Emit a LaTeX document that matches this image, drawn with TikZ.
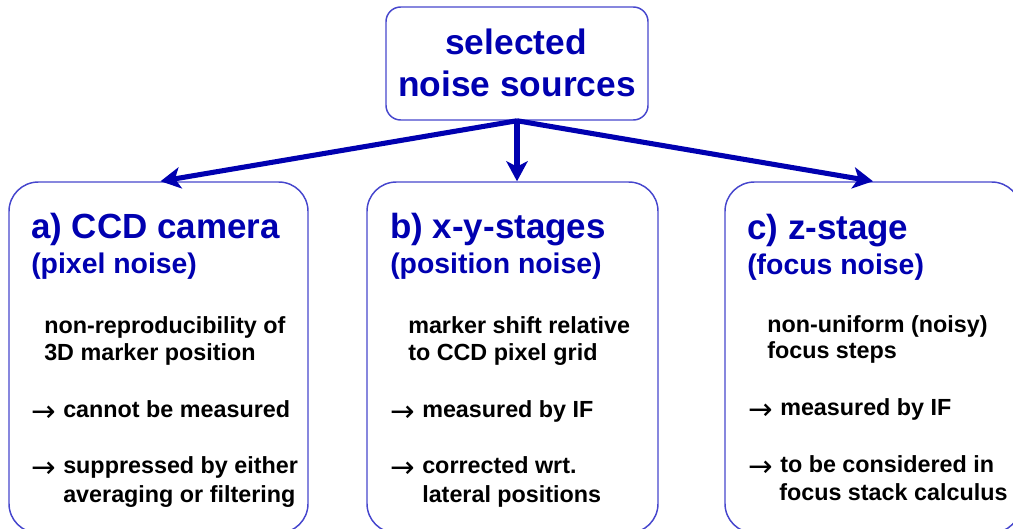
\documentclass[tikz,border=0pt]{standalone}
\usepackage{fontspec}
\setmainfont{Liberation Sans}
\newfontfamily\arrowfont{DejaVu Sans}
\usetikzlibrary{arrows.meta}
\definecolor{deepblue}{RGB}{0,0,176}
\definecolor{framblue}{RGB}{70,70,205}
\newcommand{\pointer}{\makebox[24pt][l]{\raisebox{-3pt}[0pt][0pt]{\arrowfont\mdseries\fontsize{22}{22}\selectfont →}}}
\tikzset{
  panel/.style={draw=framblue, line width=1.1pt, rounded corners=22pt, inner sep=0pt},
  headbox/.style={draw=framblue, line width=1.1pt, rounded corners=11pt, inner sep=0pt},
  headtxt/.style={text=deepblue, font=\bfseries\fontsize{26.5}{30}\selectfont, inner sep=0pt, anchor=base},
  titletxt/.style={text=deepblue, font=\bfseries\fontsize{26.2}{30}\selectfont, inner sep=0pt, anchor=base west},
  subtxt/.style={text=deepblue, font=\bfseries\fontsize{21.3}{24}\selectfont, inner sep=0pt, anchor=base west},
  bodytxt/.style={text=black, font=\bfseries\fontsize{17.5}{20}\selectfont, inner sep=0pt, anchor=base west},
  feed/.style={draw=deepblue, line width=3.8pt, -{Stealth[length=15pt, width=16pt, inset=4pt]}}
}
\begin{document}
\begin{tikzpicture}[x=0.75pt, y=-0.75pt]
\useasboundingbox (0,0) rectangle (1013,528);
\begin{scope}
\clip (0,0) rectangle (1013,528);

% header box
\node[headbox, minimum width=196.5pt, minimum height=84.75pt] (top) at (517,63.5) {};
\node[headtxt] (top1) at (516,55) {selected};
\node[headtxt] (top2) at (517,97) {noise sources};

% three panels, running past the lower edge
\node[panel, minimum width=224.25pt, minimum height=263.25pt] (pa) at (158.5,357.5) {};
\node[panel, minimum width=218.25pt, minimum height=263.25pt] (pb) at (512.5,357.5) {};
\node[panel, minimum width=222pt, minimum height=263.25pt] (pc) at (873,357.5) {};

% connectors
\draw[feed] (top.south) -- ([xshift=1.5]pa.north);
\draw[feed] (top.south) -- (pb.north -| top.south);
\draw[feed] (top.south) -- (pc.north);

% panel a
\node[titletxt] (a1) at (31,238) {a) CCD camera};
\node[subtxt]   (a2) at (31,273) {(pixel noise)};
\node[bodytxt]  (a3) at (44,333) {non-reproducibility of};
\node[bodytxt]  (a4) at (44,360) {3D marker position};
\node[bodytxt]  (a5) at (31,417) {\pointer cannot be measured};
\node[bodytxt]  (a6) at (31,473) {\pointer suppressed by either};
\node[bodytxt]  (a7) at (63,502) {averaging or filtering};

% panel b
\node[titletxt] (b1) at (390,238) {b) x-y-stages};
\node[subtxt]   (b2) at (390,273) {(position noise)};
\node[bodytxt]  (b3) at (408,333) {marker shift relative};
\node[bodytxt]  (b4) at (408,360) {to CCD pixel grid};
\node[bodytxt]  (b5) at (390,417) {\pointer measured by IF};
\node[bodytxt]  (b6) at (390,473) {\pointer corrected wrt.};
\node[bodytxt]  (b7) at (422,502) {lateral positions};

% panel c
\node[titletxt] (c1) at (747,239) {c) z-stage};
\node[subtxt]   (c2) at (747,274) {(focus noise)};
\node[bodytxt]  (c3) at (767,332) {non-uniform (noisy)};
\node[bodytxt]  (c4) at (767,358) {focus steps};
\node[bodytxt]  (c5) at (748,415) {\pointer measured by IF};
\node[bodytxt]  (c6) at (748,472) {\pointer to be considered in};
\node[bodytxt]  (c7) at (779,500) {focus stack calculus};
\end{scope}
\end{tikzpicture}
\end{document}
